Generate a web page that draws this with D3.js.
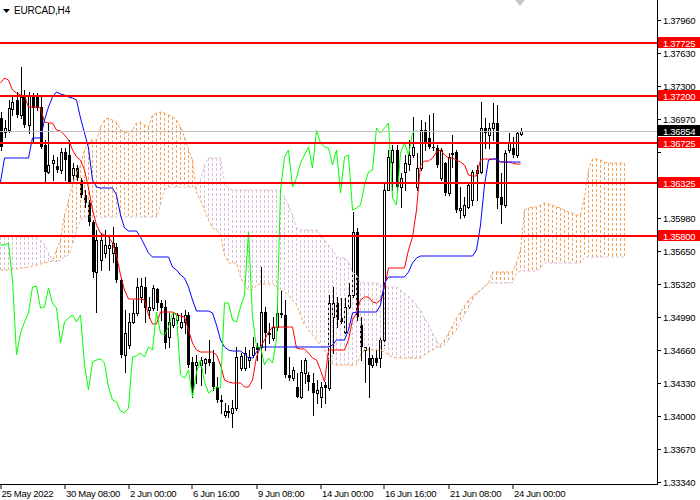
<!DOCTYPE html>
<html><head><meta charset="utf-8">
<script src="https://cdn.jsdelivr.net/npm/d3@7"></script>
<style>
body{margin:0;background:#fff}
svg{display:block}
text{font-family:"Liberation Sans",Arial,sans-serif;}
</style>
</head><body>
<svg id="chart" width="700" height="500"></svg>
<script>
// ---------- DATA (EURCAD H4) ----------
const symbolTitle = "EURCAD,H4";
const openP = [
1.3698,1.3684,1.3686,1.3707,1.3716,1.3701,1.3719,1.3691,1.3719,1.3721,
1.3709,1.3671,1.3644,1.3653,1.3650,1.3646,1.3664,1.3661,1.3641,1.3648,
1.3636,1.3621,1.3613,1.3594,1.3544,1.3556,1.3563,1.3568,1.3563,1.3569,
1.3536,1.3461,1.3471,1.3494,1.3503,1.3519,1.3529,1.3506,1.3508,1.3527,
1.3513,1.3509,1.3479,1.3491,1.3496,1.3489,1.3494,1.3501,1.3454,1.3451,
1.3451,1.3453,1.3457,1.3454,1.3429,1.3416,1.3401,1.3405,1.3403,1.3408,
1.3448,1.3448,1.3456,1.3461,1.3469,1.3469,1.3504,1.3483,1.3478,1.3489,
1.3503,1.3501,1.3441,1.3438,1.3429,1.3419,1.3443,1.3441,1.3433,1.3423,
1.3419,1.3431,1.3428,1.3499,1.3513,1.3498,1.3484,1.3509,1.3521,1.3584,
1.3491,1.3466,1.3458,1.3451,1.3458,1.3458,1.3476,1.3626,1.3654,1.3666,
1.3629,1.3644,1.3652,1.3661,1.3629,1.3648,1.3686,1.3678,1.3669,1.3668,
1.3638,1.3653,1.3623,1.3663,1.3664,1.3606,1.3601,1.3609,1.3616,1.3643,
1.3644,1.3688,1.3681,1.3688,1.3693,1.3619,1.3611,1.3666,1.3668,1.3661,
1.3682];
const highP = [
1.3704,1.3696,1.3716,1.3721,1.3724,1.3749,1.3726,1.3724,1.3723,1.3723,
1.3719,1.3676,1.3693,1.3661,1.3659,1.3668,1.3668,1.3676,1.3653,1.3651,
1.3638,1.3626,1.3616,1.3596,1.3586,1.3583,1.3586,1.3579,1.3589,1.3573,
1.3538,1.3506,1.3503,1.3516,1.3538,1.3538,1.3539,1.3519,1.3531,1.3528,
1.3516,1.3516,1.3503,1.3503,1.3503,1.3503,1.3506,1.3504,1.3459,1.3461,
1.3459,1.3458,1.3476,1.3466,1.3439,1.3421,1.3413,1.3411,1.3416,1.3469,
1.3463,1.3469,1.3466,1.3479,1.3473,1.3549,1.3509,1.3493,1.3499,1.3511,
1.3526,1.3516,1.3459,1.3449,1.3443,1.3456,1.3458,1.3444,1.3443,1.3436,
1.3434,1.3434,1.3521,1.3529,1.3519,1.3518,1.3518,1.3533,1.3604,1.3588,
1.3499,1.3469,1.3469,1.3461,1.3466,1.3481,1.3634,1.3666,1.3671,1.3671,
1.3643,1.3661,1.3676,1.3699,1.3663,1.3696,1.3694,1.3701,1.3703,1.3671,
1.3668,1.3654,1.3663,1.3681,1.3666,1.3629,1.3619,1.3633,1.3646,1.3651,
1.3714,1.3698,1.3693,1.3713,1.3711,1.3643,1.3666,1.3683,1.3679,1.3684,
1.3688];
const lowP = [
1.3666,1.3679,1.3684,1.3701,1.3699,1.3698,1.3689,1.3683,1.3674,1.3706,
1.3668,1.3635,1.3643,1.3636,1.3644,1.3643,1.3636,1.3633,1.3633,1.3636,
1.3619,1.3609,1.3591,1.3539,1.3504,1.3546,1.3559,1.3546,1.3554,1.3534,
1.3459,1.3444,1.3468,1.3493,1.3501,1.3514,1.3494,1.3498,1.3506,1.3506,
1.3496,1.3468,1.3469,1.3489,1.3493,1.3488,1.3483,1.3449,1.3419,1.3433,
1.3431,1.3443,1.3451,1.3426,1.3414,1.3403,1.3399,1.3399,1.3389,1.3406,
1.3446,1.3446,1.3449,1.3459,1.3456,1.3428,1.3466,1.3473,1.3476,1.3486,
1.3499,1.3439,1.3436,1.3436,1.3419,1.3418,1.3433,1.3426,1.3401,1.3413,
1.3409,1.3413,1.3426,1.3463,1.3489,1.3493,1.3483,1.3508,1.3519,1.3496,
1.3456,1.3434,1.3419,1.3449,1.3451,1.3449,1.3471,1.3626,1.3626,1.3626,
1.3609,1.3626,1.3646,1.3659,1.3626,1.3646,1.3666,1.3668,1.3666,1.3649,
1.3636,1.3621,1.3621,1.3649,1.3604,1.3598,1.3599,1.3608,1.3611,1.3616,
1.3643,1.3668,1.3668,1.3676,1.3608,1.3593,1.3609,1.3664,1.3659,1.3659,
1.3681];
const closeP = [
1.3669,1.3688,1.3708,1.3714,1.3701,1.3719,1.3691,1.3721,1.3708,1.3708,
1.3669,1.3644,1.3651,1.3656,1.3646,1.3664,1.3656,1.3634,1.3648,1.3638,
1.3621,1.3613,1.3594,1.3544,1.3576,1.3576,1.3571,1.3571,1.3573,1.3536,
1.3461,1.3483,1.3494,1.3503,1.3529,1.3530,1.3508,1.3509,1.3528,1.3513,
1.3508,1.3473,1.3494,1.3498,1.3501,1.3494,1.3501,1.3451,1.3426,1.3454,
1.3456,1.3457,1.3453,1.3429,1.3416,1.3414,1.3405,1.3403,1.3408,1.3459,
1.3460,1.3463,1.3459,1.3469,1.3466,1.3504,1.3483,1.3481,1.3489,1.3503,
1.3501,1.3441,1.3438,1.3446,1.3419,1.3444,1.3456,1.3434,1.3423,1.3426,
1.3429,1.3428,1.3513,1.3513,1.3496,1.3494,1.3509,1.3521,1.3584,1.3499,
1.3469,1.3469,1.3451,1.3458,1.3453,1.3476,1.3626,1.3659,1.3666,1.3629,
1.3638,1.3653,1.3661,1.3669,1.3648,1.3686,1.3673,1.3669,1.3668,1.3651,
1.3666,1.3623,1.3659,1.3661,1.3606,1.3608,1.3611,1.3631,1.3644,1.3646,
1.3688,1.3683,1.3688,1.3693,1.3618,1.3611,1.3663,1.3673,1.3661,1.3683,
1.36854];
// Ichimoku lines
const tenkanSen = [
1.3733,1.3738,1.3736,1.3726,1.3723,1.3721,1.3720,1.3709,1.3709,1.3709,
1.3708,1.3694,1.3693,1.3693,1.3686,1.3685,1.3681,1.3676,1.3666,1.3659,
1.3656,1.3646,1.3628,1.3606,1.3591,1.3583,1.3581,1.3579,1.3573,1.3561,
1.3541,1.3526,1.3517,1.3517,1.3517,1.3517,1.3516,1.3501,1.3492,1.3492,
1.3504,1.3504,1.3504,1.3504,1.3502,1.3500,1.3499,1.3486,1.3473,1.3466,
1.3464,1.3464,1.3464,1.3464,1.3461,1.3451,1.3436,1.3434,1.3433,1.3433,
1.3433,1.3429,1.3429,1.3436,1.3459,1.3469,1.3476,1.3484,1.3489,1.3489,
1.3489,1.3489,1.3489,1.3489,1.3468,1.3467,1.3467,1.3463,1.3458,1.3456,
1.3446,1.3434,1.3466,1.3466,1.3466,1.3466,1.3466,1.3476,1.3496,1.3503,
1.3516,1.3519,1.3519,1.3514,1.3513,1.3516,1.3529,1.3548,1.3548,1.3548,
1.3548,1.3548,1.3566,1.3579,1.3606,1.3651,1.3655,1.3655,1.3658,1.3664,
1.3666,1.3661,1.3658,1.3658,1.3656,1.3654,1.3651,1.3641,1.3640,1.3640,
1.3656,1.3657,1.3657,1.3657,1.3657,1.3654,1.3654,1.3654,1.3653,1.3652,
1.3652];
const kijunSen = [
1.3634,1.3658,1.3658,1.3658,1.3658,1.3658,1.3658,1.3658,1.3678,1.3678,
1.3678,1.3696,1.3709,1.3719,1.3724,1.3722,1.3721,1.3719,1.3718,1.3716,
1.3698,1.3683,1.3668,1.3636,1.3629,1.3628,1.3628,1.3628,1.3628,1.3621,
1.3601,1.3588,1.3585,1.3585,1.3585,1.3579,1.3571,1.3563,1.3559,1.3559,
1.3559,1.3559,1.3559,1.3549,1.3546,1.3541,1.3538,1.3529,1.3516,1.3505,
1.3505,1.3505,1.3505,1.3503,1.3491,1.3476,1.3469,1.3466,1.3465,1.3465,
1.3465,1.3462,1.3458,1.3458,1.3464,1.3469,1.3469,1.3469,1.3469,1.3469,
1.3469,1.3469,1.3469,1.3469,1.3469,1.3469,1.3469,1.3469,1.3469,1.3469,
1.3469,1.3469,1.3469,1.3471,1.3476,1.3476,1.3476,1.3486,1.3503,1.3504,
1.3504,1.3504,1.3504,1.3504,1.3504,1.3511,1.3533,1.3539,1.3539,1.3539,
1.3539,1.3539,1.3544,1.3553,1.3558,1.3560,1.3560,1.3560,1.3560,1.3560,
1.3560,1.3560,1.3560,1.3560,1.3560,1.3560,1.3560,1.3560,1.3560,1.3566,
1.3591,1.3631,1.3656,1.3657,1.3657,1.3654,1.3654,1.3654,1.3654,1.3654,
1.3654];
const senkouA = [
1.3546,1.3546,1.3546,1.3547,1.3547,1.3548,1.3548,1.3549,1.3550,1.3551,
1.3552,1.3553,1.3554,1.3555,1.3566,1.3576,1.3601,1.3616,1.3631,1.3644,
1.3651,1.3666,1.3674,1.3676,1.3676,1.3689,1.3696,1.3698,1.3696,1.3694,
1.3686,1.3684,1.3683,1.3686,1.3693,1.3694,1.3691,1.3689,1.3701,1.3703,
1.3704,1.3703,1.3701,1.3699,1.3696,1.3689,1.3679,1.3666,1.3656,1.3623,
1.3616,1.3606,1.3596,1.3588,1.3586,1.3581,1.3561,1.3553,1.3553,1.3553,
1.3539,1.3531,1.3526,1.3526,1.3531,1.3532,1.3532,1.3532,1.3532,1.3529,
1.3526,1.3524,1.3521,1.3516,1.3511,1.3501,1.3491,1.3486,1.3481,1.3476,
1.3471,1.3466,1.3456,1.3452,1.3451,1.3451,1.3451,1.3451,1.3451,1.3451,
1.3461,1.3466,1.3466,1.3466,1.3466,1.3466,1.3464,1.3461,1.3459,1.3458,
1.3458,1.3458,1.3458,1.3458,1.3458,1.3458,1.3461,1.3464,1.3466,1.3468,
1.3471,1.3476,1.3483,1.3490,1.3498,1.3504,1.3510,1.3516,1.3520,1.3523,
1.3526,1.3529,1.3533,1.3544,1.3544,1.3544,1.3544,1.3544,1.3544,1.3553,
1.3566,1.3606,1.3608,1.3609,1.3609,1.3611,1.3613,1.3612,1.3611,1.3609,
1.3608,1.3606,1.3604,1.3603,1.3601,1.3601,1.3619,1.3646,1.3657,1.3657,
1.3656,1.3654,1.3653,1.3653,1.3653,1.3653,1.3653];
const senkouB = [
1.3579,1.3579,1.3579,1.3579,1.3579,1.3579,1.3579,1.3579,1.3579,1.3579,
1.3576,1.3571,1.3563,1.3556,1.3554,1.3556,1.3559,1.3561,1.3571,1.3586,
1.3596,1.3599,1.3599,1.3599,1.3599,1.3599,1.3599,1.3599,1.3599,1.3599,
1.3599,1.3599,1.3599,1.3599,1.3599,1.3599,1.3599,1.3599,1.3599,1.3599,
1.3611,1.3626,1.3629,1.3629,1.3629,1.3629,1.3629,1.3629,1.3629,1.3629,
1.3636,1.3651,1.3658,1.3658,1.3658,1.3658,1.3633,1.3628,1.3626,1.3626,
1.3626,1.3626,1.3626,1.3626,1.3626,1.3626,1.3626,1.3626,1.3626,1.3626,
1.3624,1.3619,1.3611,1.3601,1.3588,1.3586,1.3586,1.3586,1.3586,1.3586,
1.3581,1.3576,1.3571,1.3566,1.3559,1.3558,1.3558,1.3554,1.3544,1.3541,
1.3533,1.3533,1.3533,1.3533,1.3533,1.3531,1.3529,1.3529,1.3529,1.3529,
1.3526,1.3523,1.3520,1.3516,1.3511,1.3506,1.3498,1.3491,1.3483,1.3476,
1.3468,1.3471,1.3476,1.3481,1.3486,1.3494,1.3501,1.3508,1.3516,1.3521,
1.3526,1.3530,1.3533,1.3533,1.3533,1.3533,1.3533,1.3533,1.3533,1.3543,
1.3545,1.3545,1.3545,1.3545,1.3545,1.3548,1.3553,1.3553,1.3553,1.3553,
1.3553,1.3553,1.3553,1.3553,1.3553,1.3553,1.3559,1.3559,1.3559,1.3559,
1.3559,1.3559,1.3559,1.3559,1.3559,1.3559,1.3559];
const chikouShift = 26;
const levelLines = [1.37725, 1.37200, 1.36725, 1.36325, 1.35800];
const lastPrice = 1.36854;
const priceTicks = [1.37960,1.37630,1.37300,1.36970,1.36640,1.36310,1.35980,1.35650,1.35320,1.34990,1.34660,1.34330,1.34000,1.33670,1.33340];
const timeTickBars = [0,16,32,48,64,80,96,112,128];
const timeLabels = ["25 May 2022","30 May 08:00","2 Jun 00:00","6 Jun 16:00","9 Jun 08:00","14 Jun 00:00","16 Jun 16:00","21 Jun 08:00","24 Jun 00:00"];

// ---------- LAYOUT ----------
const plotR = 657, plotB = 484;
const svg = d3.select("#chart");
const x = d3.scaleLinear().domain([0, 164]).range([0.5, 656.5]);
const y = d3.scaleLinear().domain([1.3816, 1.3332]).range([0, 484]);

svg.append("rect").attr("width",700).attr("height",500).attr("fill","#fff");
const plot = svg.append("g");
plot.append("clipPath").attr("id","clip").append("rect").attr("width",plotR).attr("height",plotB);
const g = plot.append("g").attr("clip-path","url(#clip)");

// candles
const candles = g.append("g").attr("shape-rendering","crispEdges");
openP.forEach((o,i)=>{
  const c = closeP[i], h = highP[i], l = lowP[i];
  const cx = Math.round(x(i));
  const bull = c >= o;
  candles.append("line").attr("x1",cx).attr("x2",cx)
    .attr("y1",Math.round(y(h))).attr("y2",Math.round(y(l))+1)
    .attr("stroke","#000").attr("stroke-width",1);
  const top = Math.round(y(Math.max(o,c))), bot = Math.round(y(Math.min(o,c)));
  if (bull) {
    candles.append("rect").attr("x",cx-1).attr("y",top+0.5)
      .attr("width",2).attr("height",Math.max(bot-top,0))
      .attr("fill","#fff").attr("stroke","#000").attr("stroke-width",1);
  } else {
    candles.append("rect").attr("x",cx-1.5).attr("y",top)
      .attr("width",3).attr("height",Math.max(bot-top,1)).attr("fill","#000");
  }
});

// cloud histogram (dotted verticals)
const SANDY = "#F4A460", THISTLE = "#D8BFD8";
const cloud = g.append("g").attr("shape-rendering","crispEdges");
senkouA.forEach((a,i)=>{
  const b = senkouB[i];
  cloud.append("line").attr("x1",x(i)).attr("x2",x(i))
    .attr("y1",Math.round(y(Math.max(a,b)))).attr("y2",Math.round(y(Math.min(a,b))))
    .attr("stroke", a >= b ? SANDY : THISTLE).attr("stroke-width",1)
    .attr("stroke-dasharray","3,2");
});
const line = d3.line().x((d,i)=>x(i)).y(d=>y(d));
g.append("path").datum(senkouB).attr("d",line).attr("fill","none")
  .attr("stroke",THISTLE).attr("stroke-dasharray","3,2");
g.append("path").datum(senkouA).attr("d",line).attr("fill","none")
  .attr("stroke",SANDY).attr("stroke-dasharray","3,2");

// tenkan, kijun, chikou
g.append("path").datum(tenkanSen).attr("d",line).attr("fill","none").attr("stroke","#FF0000").attr("stroke-width",1);
g.append("path").datum(kijunSen).attr("d",line).attr("fill","none").attr("stroke","#0000FF").attr("stroke-width",1);
g.append("path").datum(closeP.slice(chikouShift)).attr("d",line).attr("fill","none").attr("stroke","#00FF00").attr("stroke-width",1);

// last price line
g.append("line").attr("x1",0).attr("x2",plotR).attr("y1",Math.round(y(lastPrice))+0.5).attr("y2",Math.round(y(lastPrice))+0.5)
  .attr("stroke","#C0C0C0").attr("stroke-width",1);
// level lines
levelLines.forEach(v=>{
  g.append("line").attr("x1",0).attr("x2",plotR).attr("y1",Math.round(y(v))).attr("y2",Math.round(y(v)))
    .attr("stroke","#FF0000").attr("stroke-width",2).attr("shape-rendering","crispEdges");
});

// top marker triangle
svg.append("path").attr("d","M515,0 L525,0 L520,6 Z").attr("fill","#C8C8C8");

// frame
svg.append("line").attr("x1",plotR+0.5).attr("x2",plotR+0.5).attr("y1",0).attr("y2",plotB+1).attr("stroke","#000");
svg.append("line").attr("x1",0).attr("x2",plotR+1).attr("y1",plotB+0.5).attr("y2",plotB+0.5).attr("stroke","#000");

// price axis (a tick label hidden behind a price tag is not drawn, as in the terminal)
const tags = levelLines.concat([lastPrice]);
priceTicks.forEach(p=>{
  const yy = Math.round(y(p));
  svg.append("line").attr("x1",plotR).attr("x2",plotR+4).attr("y1",yy+0.5).attr("y2",yy+0.5).attr("stroke","#000");
  const hidden = tags.some(t => Math.abs(y(t) - y(p)) < 9);
  if (!hidden) {
    svg.append("text").attr("x",663).attr("y",yy+4).text(p.toFixed(5))
      .attr("font-size","9.5px").attr("letter-spacing","-0.3px").attr("fill","#000");
  }
});
function priceTag(v, bg){
  const yy = Math.round(y(v));
  svg.append("rect").attr("x",658).attr("y",yy-6).attr("width",42).attr("height",11).attr("fill",bg);
  svg.append("text").attr("x",663).attr("y",yy+3.5).text(v.toFixed(5))
    .attr("font-size","9.5px").attr("letter-spacing","-0.3px").attr("fill","#fff");
}
levelLines.forEach(v=>priceTag(v,"#FF0000"));
priceTag(lastPrice,"#000");

// time axis
timeTickBars.forEach((b,k)=>{
  const xx = Math.round(x(b));
  svg.append("line").attr("x1",xx).attr("x2",xx).attr("y1",plotB).attr("y2",plotB+5).attr("stroke","#000");
  svg.append("text").attr("x",xx+(k===0?0.5:1)).attr("y",497).text(timeLabels[k])
    .attr("font-size","9.5px").attr("letter-spacing","-0.3px").attr("fill","#000");
});

// title
svg.append("path").attr("d","M3,9 L10,9 L6.5,13 Z").attr("fill","#000");
svg.append("text").attr("x",14).attr("y",14).text(symbolTitle).attr("font-size","10px").attr("letter-spacing","-0.2px").attr("fill","#000");
</script>
</body></html>
